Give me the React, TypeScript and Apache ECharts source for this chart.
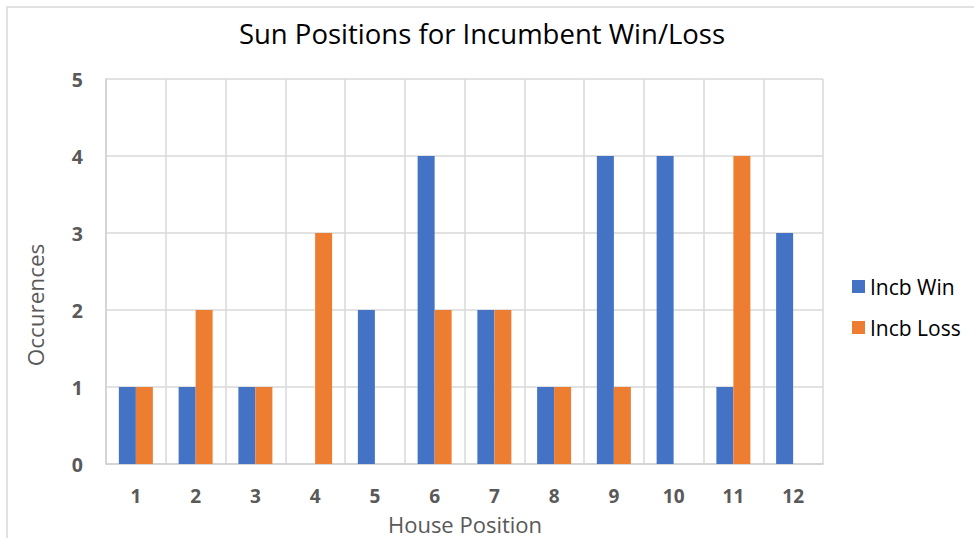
import React, { useEffect, useRef } from "react";
import * as echarts from "echarts";

const categories = ["1", "2", "3", "4", "5", "6", "7", "8", "9", "10", "11", "12"];
const incbWin = [1, 1, 1, 0, 2, 4, 2, 1, 4, 4, 1, 3];
const incbLoss = [1, 2, 1, 3, 0, 2, 2, 1, 1, 0, 4, 0];
const yTicks = { min: 0, max: 5, interval: 1 };

const FONT = "'Open Sans', 'Noto Sans', sans-serif";

export default function App() {
  const ref = useRef<HTMLDivElement>(null);
  useEffect(() => {
    if (!ref.current) return;
    const chart = echarts.init(ref.current, null, { renderer: "svg" });
    chart.setOption({
      animation: false,
      backgroundColor: "#ffffff",
      graphic: [
        {
          type: "rect",
          shape: { x: 7, y: 7, width: 1000, height: 560 },
          style: { fill: "none", stroke: "#d9d9d9", lineWidth: 1.5 },
          z: -1,
        },
        {
          type: "text",
          x: 35,
          y: 305,
          rotation: Math.PI / 2,
          style: {
            text: "Occurences",
            fontFamily: FONT,
            fontSize: 22.5,
            fill: "#595959",
            align: "center",
            verticalAlign: "middle",
          },
        },
        {
          type: "text",
          x: 465,
          y: 524,
          style: {
            text: "House Position",
            fontFamily: FONT,
            fontSize: 22,
            fill: "#595959",
            align: "center",
            verticalAlign: "middle",
          },
        },
      ],
      title: {
        text: "Sun Positions for Incumbent Win/Loss",
        left: 477,
        textAlign: "center",
        top: 14,
        textStyle: { fontFamily: FONT, fontSize: 27.5, fontWeight: "normal", color: "#000000" },
      },
      legend: {
        orient: "vertical",
        left: 847,
        top: 271,
        itemWidth: 13,
        itemHeight: 13,
        itemGap: 20,
        icon: "rect",
        textStyle: { fontFamily: FONT, fontSize: 21, color: "#000000", padding: [0, 0, 0, 0] },
        data: ["Incb Win", "Incb Loss"],
      },
      grid: { left: 106, top: 79, width: 717, height: 385, containLabel: false, outerBoundsMode: "none" },
      xAxis: {
        type: "category",
        data: categories,
        axisLine: { show: true, lineStyle: { color: "#d0d0d0", width: 1.5 } },
        axisTick: { show: false },
        axisLabel: { fontFamily: FONT, fontSize: 19, fontWeight: "bold", color: "#595959", margin: 22 },
        splitLine: { show: true, lineStyle: { color: "#d9d9d9", width: 1.5 } },
      },
      yAxis: {
        type: "value",
        min: yTicks.min,
        max: yTicks.max,
        interval: yTicks.interval,
        axisLine: { show: true, lineStyle: { color: "#d0d0d0", width: 1.5 } },
        axisTick: { show: false },
        axisLabel: { fontFamily: FONT, fontSize: 19.5, fontWeight: "bold", color: "#595959", margin: 23 },
        splitLine: { show: true, lineStyle: { color: "#d9d9d9", width: 1.5 } },
      },
      series: [
        {
          name: "Incb Win",
          type: "bar",
          data: incbWin,
          itemStyle: { color: "#4472C4" },
          barWidth: 17,
          barGap: "0%",
        },
        {
          name: "Incb Loss",
          type: "bar",
          data: incbLoss,
          itemStyle: { color: "#ED7D31" },
          barWidth: 17,
          barGap: "0%",
        },
      ],
    });
    return () => chart.dispose();
  }, []);
  return (
    <div
      ref={ref}
      style={{ position: "fixed", left: 0, top: 0, width: 974, height: 538 }}
    />
  );
}
